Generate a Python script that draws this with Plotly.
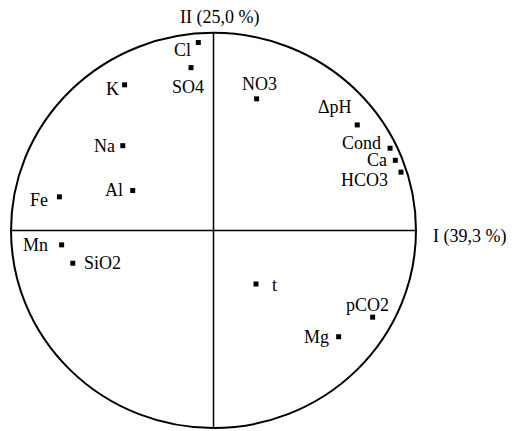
import plotly.graph_objects as go

# variable coordinates on the correlation circle (axis I, axis II)
variables = ["Cl", "SO4", "K", "Na", "Al", "Fe", "NO3", "ΔpH", "Cond", "Ca",
             "HCO3", "Mn", "SiO2", "t", "pCO2", "Mg"]
axis_1 = [-0.075, -0.111, -0.439, -0.448, -0.399, -0.761, 0.213, 0.710, 0.872, 0.898,
          0.926, -0.750, -0.695, 0.210, 0.786, 0.618]
axis_2 = [0.951, 0.824, 0.737, 0.429, 0.202, 0.170, 0.666, 0.534, 0.416, 0.355,
          0.295, -0.073, -0.166, -0.271, -0.439, -0.538]

axis_1_title = "I (39,3 %)"
axis_2_title = "II (25,0 %)"

# label placement around each point: xanchor, dx, dy (pixels, dy downwards)
label_place = {
    "Cl": ("right", -6, 7),
    "SO4": ("center", -3, 19),
    "K": ("right", -5, 4),
    "Na": ("right", -7, 0),
    "Al": ("right", -9, -1),
    "Fe": ("right", -10, 3),
    "NO3": ("center", 3, -15),
    "ΔpH": ("right", -4, -18),
    "Cond": ("right", -8, -5),
    "Ca": ("right", -7, 0),
    "HCO3": ("right", -12, 8),
    "Mn": ("right", -13, 0),
    "SiO2": ("left", 10, 0),
    "t": ("left", 15, 1),
    "pCO2": ("center", -5, -12),
    "Mg": ("right", -9, 0),
}

FONT = dict(family="Liberation Serif, Times New Roman, serif", size=18, color="black")

fig = go.Figure()

# correlation circle and the two axes
fig.add_shape(type="circle", xref="x", yref="y", x0=-1, y0=-1, x1=1, y1=1,
              line=dict(color="black", width=2))
fig.add_shape(type="line", xref="x", yref="y", x0=-1, y0=0, x1=1, y1=0,
              line=dict(color="black", width=1.5))
fig.add_shape(type="line", xref="x", yref="y", x0=0, y0=-1, x1=0, y1=1,
              line=dict(color="black", width=1.5))

fig.add_trace(
    go.Scatter(
        x=axis_1,
        y=axis_2,
        mode="markers",
        marker=dict(symbol="square", size=5, color="black"),
        cliponaxis=False,
        hoverinfo="text",
        text=variables,
        showlegend=False,
    )
)

for name, xv, yv in zip(variables, axis_1, axis_2):
    anchor, dx, dy = label_place[name]
    fig.add_annotation(x=xv, y=yv, text=name, showarrow=False, xanchor=anchor,
                       yanchor="middle", xshift=dx, yshift=-dy, borderpad=0, font=FONT)

fig.add_annotation(x=0, y=1, text=axis_2_title, showarrow=False, xanchor="center",
                   yanchor="middle", xshift=6, yshift=15, borderpad=0, font=FONT)
fig.add_annotation(x=1, y=0, text=axis_1_title, showarrow=False, xanchor="left",
                   yanchor="middle", xshift=16, yshift=-6, borderpad=0, font=FONT)

# the page body adds an 8px offset, so the figure is a little smaller than the window
fig.update_layout(
    width=508,
    height=423,
    autosize=False,
    margin=dict(l=1, r=98, t=13, b=1),
    plot_bgcolor="white",
    paper_bgcolor="white",
    xaxis=dict(range=[-1.01, 1.01], visible=False, showgrid=False, zeroline=False),
    yaxis=dict(range=[-1.01, 1.06], visible=False, showgrid=False, zeroline=False),
    font=FONT,
)

fig.write_html("out.html")
